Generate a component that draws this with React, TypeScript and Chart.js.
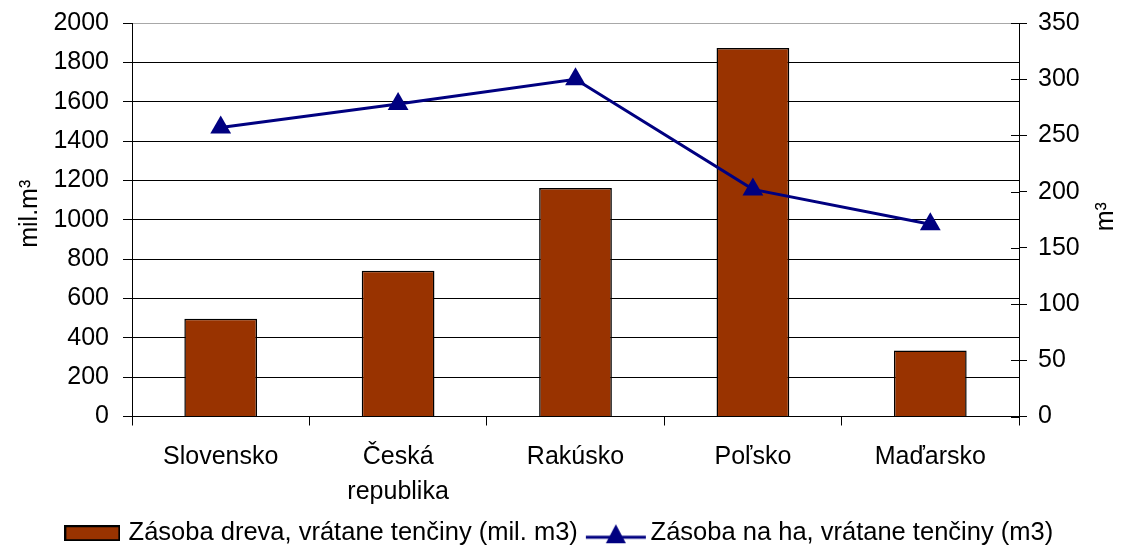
import React, { useEffect, useRef } from 'react';
import { Chart, registerables } from 'chart.js';

Chart.register(...registerables);

const categories: (string | string[])[] = ['Slovensko', ['Česká', 'republika'], 'Rakúsko', 'Poľsko', 'Maďarsko'];
const stockValues = [497, 741, 1162, 1873, 335];
const perHaValues = [257, 278, 300, 202, 171];
const stockLabel = 'Zásoba dreva, vrátane tenčiny (mil. m3)';
const perHaLabel = 'Zásoba na ha, vrátane tenčiny (m3)';
const leftTitle = 'mil.m³';
const rightTitle = 'm³';

const FONT = 'Liberation Sans';
const BAR_COLOR = '#993300';
const LINE_COLOR = '#000080';

function makeBarSwatch() {
  const c = document.createElement('canvas');
  c.width = 56;
  c.height = 16;
  const g = c.getContext('2d')!;
  g.fillStyle = BAR_COLOR;
  g.fillRect(0, 0, 56, 16);
  g.strokeStyle = '#000';
  g.lineWidth = 2;
  g.strokeRect(1, 1, 54, 14);
  return c;
}

function makeLineSwatch() {
  const c = document.createElement('canvas');
  c.width = 73;
  c.height = 22;
  const g = c.getContext('2d')!;
  g.strokeStyle = LINE_COLOR;
  g.lineWidth = 3;
  g.beginPath();
  g.moveTo(8, 15);
  g.lineTo(68, 15);
  g.stroke();
  g.fillStyle = LINE_COLOR;
  g.beginPath();
  g.moveTo(38, 2);
  g.lineTo(48, 21);
  g.lineTo(28, 21);
  g.closePath();
  g.fill();
  return c;
}

const extrasPlugin = {
  id: 'extras',
  afterDraw(chart: any) {
    const { ctx, chartArea, scales } = chart;
    ctx.save();
    const r = scales.y1;
    ctx.strokeStyle = '#000';
    ctx.lineWidth = 1;
    r.ticks.forEach((t: any) => {
      const y = Math.round(r.getPixelForValue(t.value)) + 0.5;
      ctx.beginPath();
      ctx.moveTo(chartArea.right - 8, y);
      ctx.lineTo(chartArea.right, y);
      ctx.stroke();
    });
    ctx.fillStyle = '#000';
    ctx.font = `25px "${FONT}"`;
    ctx.textAlign = 'center';
    ctx.textBaseline = 'middle';
    const midY = (chartArea.top + chartArea.bottom) / 2;
    ctx.save();
    ctx.translate(30, midY - 6);
    ctx.rotate(-Math.PI / 2);
    ctx.fillText(leftTitle, 0, 0);
    ctx.restore();
    ctx.save();
    ctx.translate(1106, midY - 3);
    ctx.rotate(-Math.PI / 2);
    ctx.fillText(rightTitle, 0, 0);
    ctx.restore();
    ctx.restore();
  },
};

export default function App() {
  const ref = useRef<HTMLCanvasElement>(null);
  useEffect(() => {
    document.body.style.margin = '0';
    const barSwatch = makeBarSwatch();
    const lineSwatch = makeLineSwatch();
    const font = { family: FONT, size: 25 };
    const plain = (v: any) => String(v);
    const chart = new Chart(ref.current!, {
      type: 'bar',
      data: {
        labels: categories as any,
        datasets: [
          {
            type: 'bar',
            label: stockLabel,
            data: stockValues,
            backgroundColor: BAR_COLOR,
            borderColor: '#000',
            borderWidth: 1.5,
            barPercentage: 0.41,
            categoryPercentage: 1,
            yAxisID: 'y',
            order: 1,
          },
          {
            type: 'line',
            label: perHaLabel,
            data: perHaValues,
            borderColor: LINE_COLOR,
            backgroundColor: LINE_COLOR,
            borderWidth: 3,
            pointStyle: 'triangle',
            pointRadius: 12,
            pointBorderWidth: 0,
            pointBackgroundColor: LINE_COLOR,
            tension: 0,
            yAxisID: 'y1',
            order: 0,
          },
        ] as any,
      },
      options: {
        animation: false,
        responsive: true,
        maintainAspectRatio: false,
        layout: { padding: { top: 23, left: 0, right: 0, bottom: -5 } },
        plugins: {
          tooltip: { enabled: false },
          legend: {
            position: 'bottom',
            labels: {
              usePointStyle: true,
              pointStyleWidth: 47,
              boxHeight: 24,
              padding: 13,
              color: '#000',
              font: { family: FONT, size: 25.5 },
              generateLabels: () => [
                { text: stockLabel, pointStyle: barSwatch, fillStyle: BAR_COLOR, strokeStyle: '#000', lineWidth: 0, hidden: false, datasetIndex: 0 },
                { text: perHaLabel, pointStyle: lineSwatch, fillStyle: LINE_COLOR, strokeStyle: LINE_COLOR, lineWidth: 0, hidden: false, datasetIndex: 1 },
              ] as any,
            },
          },
        },
        scales: {
          x: {
            grid: { offset: true, drawOnChartArea: false, drawTicks: true, tickLength: 9, color: '#000' },
            border: { display: true, color: '#000' },
            ticks: { color: '#000', font: { ...font, lineHeight: 1.4 }, padding: 14, maxRotation: 0, autoSkip: false },
            afterFit: (s: any) => {
              s.height = 91;
              s.paddingLeft = 0;
              s.paddingRight = 0;
            },
          },
          y: {
            position: 'left',
            min: 0,
            max: 2000,
            ticks: { stepSize: 200, padding: 14, color: '#000', font, callback: plain },
            grid: {
              color: (c: any) => (c.tick && c.tick.value === 2000 ? '#a8a8a8' : '#000'),
              tickColor: '#000',
              tickLength: 9,
              drawTicks: true,
            },
            border: { color: '#000' },
            afterFit: (s: any) => {
              s.width = 132;
              s.paddingTop = 0;
              s.paddingBottom = 0;
            },
          },
          y1: {
            position: 'right',
            min: 0,
            max: 350,
            ticks: { stepSize: 50, padding: 11, color: '#000', font, callback: plain },
            grid: { drawOnChartArea: false, tickLength: 8, color: '#000' },
            border: { color: '#000' },
            afterFit: (s: any) => {
              s.width = 103;
              s.paddingTop = 0;
              s.paddingBottom = 0;
            },
          },
        },
      } as any,
      plugins: [extrasPlugin],
    });
    return () => chart.destroy();
  }, []);
  return (
    <div style={{ width: 1122, height: 551, position: 'relative' }}>
      <canvas ref={ref} />
    </div>
  );
}
